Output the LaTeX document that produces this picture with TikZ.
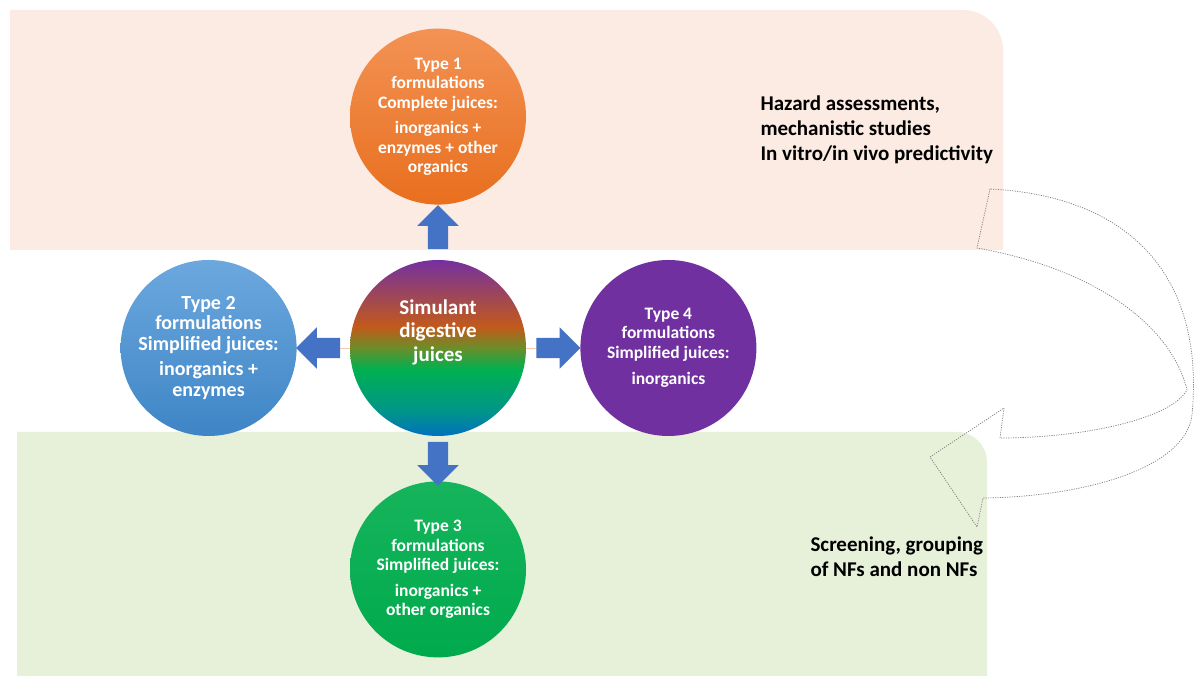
\documentclass[tikz,border=0pt]{standalone}
\usepackage{fontspec}
\setmainfont{Carlito}
\usetikzlibrary{shapes, shapes.arrows, calc, positioning, backgrounds}

\definecolor{peachband}{HTML}{FBEBE2}
\definecolor{greenband}{HTML}{E7F1DA}
\definecolor{arrowblue}{HTML}{4472C4}
\definecolor{orangetop}{HTML}{F39254}
\definecolor{orangebot}{HTML}{E86F1E}
\definecolor{bluetop}{HTML}{6CA8DE}
\definecolor{bluebot}{HTML}{3E85C6}
\definecolor{greentop}{HTML}{16B45C}
\definecolor{greenbot}{HTML}{00AA4C}
\definecolor{purplefill}{HTML}{7030A0}
\definecolor{jblue}{HTML}{0070C0}
\definecolor{jteal}{HTML}{00958A}
\definecolor{jgreen}{HTML}{00B050}
\definecolor{jolive}{HTML}{6A8E2A}
\definecolor{jbrown}{HTML}{C25A1A}
\definecolor{jpurple}{HTML}{7530A0}
\definecolor{faintline}{HTML}{F8CBAD}

\pgfdeclareverticalshading{juices}{100bp}{color(0bp)=(jblue); color(25bp)=(jblue); color(32bp)=(jteal); color(44bp)=(jgreen); color(50bp)=(jolive); color(56bp)=(jbrown); color(75bp)=(jpurple); color(100bp)=(jpurple)}

\begin{document}
\begin{tikzpicture}[x=1pt, y=1pt,
  circ/.style={circle, minimum size=176pt, inner sep=0pt, align=center, text=white,
    font=\fontsize{17.5}{19.5}\selectfont\bfseries},
  blockarrow/.style={single arrow, fill=arrowblue, inner xsep=0pt, inner ysep=10pt,
    minimum height=44pt, minimum width=41pt, single arrow head extend=10.5pt,
    single arrow tip angle=90},
  sidetext/.style={align=left, font=\fontsize{21}{25}\selectfont\bfseries}]

\useasboundingbox (0,0) rectangle (1194,676);

% bands
\fill[peachband] (10,426) -- (10,666) -- (963,666) arc[start angle=90, end angle=0, radius=40pt] -- (1003,426) -- cycle;
\fill[greenband] (17,0) -- (17,244) -- (957,244) arc[start angle=90, end angle=0, radius=30pt] -- (987,0) -- cycle;

% circles
\node[circ, shading=juices] (hub) at (438,328) {};
\node[align=center, text=white, font=\fontsize{21}{23.5}\selectfont\bfseries] (hubtext) at ([yshift=16pt]hub.center) {Simulant\\digestive\\juices};
\node[circ, top color=orangetop, bottom color=orangebot, above =55pt of hub] (t1) {Type 1\\formulations\\Complete juices:\\[6pt]inorganics +\\enzymes + other\\organics};
\node[circ, top color=bluetop, bottom color=bluebot, left =53pt of hub,
  font=\fontsize{20}{20.5}\selectfont\bfseries] (t2) {Type 2\\formulations\\Simplified juices:\\[5pt]inorganics +\\enzymes};
\node[circ, top color=greentop, bottom color=greenbot, below =45pt of hub] (t3) {Type 3\\formulations\\Simplified juices:\\[6pt]inorganics +\\other organics};
\node[circ, fill=purplefill, right =54pt of hub] (t4) {Type 4\\formulations\\Simplified juices:\\[7pt]inorganics};

\begin{scope}[on background layer]
\draw[faintline, line width=0.8pt] (t2) -- (t4);
\end{scope}

% arrows
\path (hub) -- node[blockarrow, sloped, allow upside down] (a1) {} (t1);
\path (hub) -- node[blockarrow, sloped, allow upside down] (a2) {} (t2);
\path (hub) -- node[blockarrow, sloped, allow upside down] (a3) {} (t3);
\path (hub) -- node[blockarrow, sloped, allow upside down] (a4) {} (t4);

% texts
\node[sidetext, anchor=west] (hazard) at (757,546) {Hazard assessments,\\mechanistic studies\\In vitro/in vivo predictivity};
\node[sidetext, anchor=west] (screening) at (807,119) {Screening, grouping\\of NFs and non NFs};

% curved arrow
\draw[gray, line width=0.7pt, dash pattern=on 1.2pt off 1.2pt]
  (990,487) -- (977,428) .. controls (1100,406) and (1172,348) .. (1187,286)
  .. controls (1170,256) and (1080,238) .. (1000,238) -- (1004,268) -- (930,219)
  -- (977,149) -- (983,178) .. controls (1080,179) and (1185,206) .. (1192,261)
  .. controls (1205,400) and (1130,480) .. cycle;

\end{tikzpicture}
\end{document}
